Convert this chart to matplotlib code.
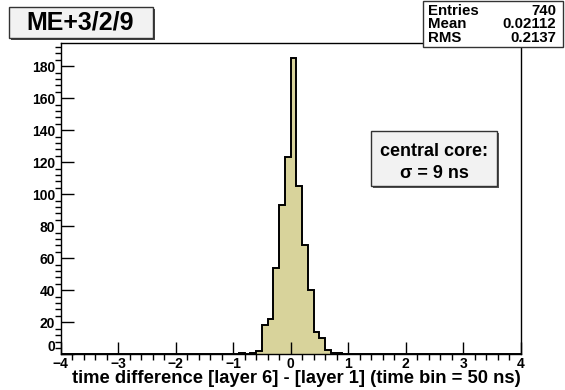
import numpy as np
import matplotlib.pyplot as plt
from matplotlib.patches import Rectangle

plt.rcParams['font.family'] = ['Liberation Sans', 'DejaVu Sans']
plt.rcParams['font.weight'] = 'bold'

# histogram contents (bin width 0.1, range -4..4), only non-empty bins
bin_low = [-0.9, -0.8, -0.7, -0.6, -0.5, -0.4, -0.3, -0.2, -0.1, 0.0,
           0.1, 0.2, 0.3, 0.4, 0.5, 0.6, 0.7, 0.8]
counts = [1, 0, 1, 2, 18, 22, 54, 93, 123, 185,
          105, 68, 40, 14, 10, 3, 1, 1]
x_min, x_max, n_bins = -4, 4, 80

title = 'ME+3/2/9'
stats_names = ['Entries', 'Mean', 'RMS']
stats_vals = ['740', '0.02112', '0.2137']
note_lines = ['central core:', 'σ = 9 ns']
xlabel = 'time difference [layer 6] - [layer 1] (time bin = 50 ns)'

edges = np.linspace(x_min, x_max, n_bins + 1)
h = np.zeros(n_bins)
for lo, c in zip(bin_low, counts):
    h[int(round((lo - x_min) / 0.1))] = c

fig = plt.figure(figsize=(5.65, 3.9), dpi=100)
ax = fig.add_axes([0.1074, 0.0915, 0.8142, 0.7975])

ax.stairs(h, edges, fill=True, color='#d8d39b')
ax.stairs(h, edges, color='black', linewidth=1.4)

ax.set_xlim(x_min, x_max)
ax.set_ylim(0, max(counts) * 1.05)
ax.set_xticks(np.arange(-4, 5, 1))
ax.set_xticks(np.arange(-4, 4.01, 0.2), minor=True)
ax.set_yticks(np.arange(0, 181, 20))
ax.set_yticks(np.arange(0, 194, 4), minor=True)
ax.tick_params(direction='in', labelsize=10, width=1, color='black')
ax.tick_params(axis='x', which='major', length=9, pad=2)
ax.tick_params(axis='x', which='minor', length=4.5, width=1)
ax.tick_params(axis='y', which='major', length=9, pad=4)
ax.tick_params(axis='y', which='minor', length=4.5, width=1)
for lab in ax.get_xticklabels() + ax.get_yticklabels():
    lab.set_fontweight('bold')
ax.get_yticklabels()[0].set_va('bottom')
for s in ax.spines.values():
    s.set_linewidth(1)

ax.set_xlabel(xlabel, fontsize=13.2, fontweight='bold', loc='right', labelpad=-1)

# title box with shadow
fig.patches.append(Rectangle((11 / 565, 1 - 40 / 390), 144 / 565, 31 / 390,
                             transform=fig.transFigure, facecolor='#444444', edgecolor='none'))
fig.patches.append(Rectangle((9 / 565, 1 - 38 / 390), 144 / 565, 31 / 390,
                             transform=fig.transFigure, facecolor='#f2f2f2',
                             edgecolor='#333333', linewidth=1))
fig.text(80 / 565, 1 - 23 / 390, title, fontsize=18, fontweight='bold',
         ha='center', va='center')

# stats box
fig.patches.append(Rectangle((423 / 565, 1 - 47 / 390), 140 / 565, 46 / 390,
                             transform=fig.transFigure, facecolor='white',
                             edgecolor='#333333', linewidth=1))
for i, (nm, v) in enumerate(zip(stats_names, stats_vals)):
    y = 1 - (11 + 13.5 * i) / 390
    fig.text(428 / 565, y, nm, fontsize=10.8, fontweight='bold', va='center', ha='left')
    fig.text(556 / 565, y, v, fontsize=10.8, fontweight='bold', va='center', ha='right')

# central core note
fig.patches.append(Rectangle((373 / 565, 1 - 188 / 390), 126 / 565, 55 / 390,
                             transform=fig.transFigure, facecolor='#555555', edgecolor='none'))
fig.patches.append(Rectangle((371 / 565, 1 - 186 / 390), 126 / 565, 55 / 390,
                             transform=fig.transFigure, facecolor='#f2f2f2',
                             edgecolor='#333333', linewidth=1))
fig.text(434 / 565, 1 - 152 / 390, note_lines[0], fontsize=13, fontweight='bold',
         ha='center', va='center')
fig.text(434 / 565, 1 - 173 / 390, note_lines[1], fontsize=13, fontweight='bold',
         ha='center', va='center')

fig.savefig('out.png', dpi=100, facecolor='white')
